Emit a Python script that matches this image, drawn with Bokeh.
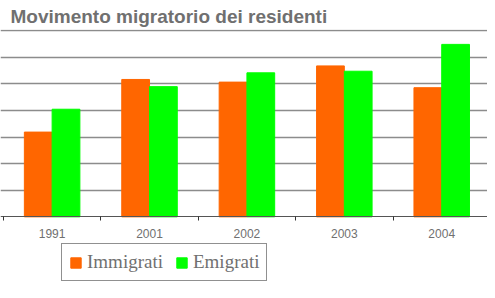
from bokeh.plotting import figure
from bokeh.models import (ColumnDataSource, Range1d, FixedTicker, Legend, LegendItem)
from bokeh.transform import dodge
from bokeh.embed import file_html
from bokeh.resources import INLINE

# Data
years = ["1991", "2001", "2002", "2003", "2004"]
immigrati = [319, 517, 507, 568, 486]
emigrati = [405, 490, 542, 548, 649]

ORANGE = "#FF6600"
GREEN = "#00FF00"
GRAY = "#707070"

xs = [i + 0.5 for i in range(len(years))]
src = ColumnDataSource(dict(x=xs, imm=immigrati, emi=emigrati))

p = figure(width=487, height=282, output_backend="svg", toolbar_location=None,
           x_range=Range1d(-0.03, 4.97), y_range=Range1d(-247, 705),
           title="Movimento migratorio dei residenti",
           min_border_left=0, min_border_right=0, min_border_top=0,
           min_border_bottom=0)

p.title.text_font = "Liberation Sans"
p.title.text_font_size = "19px"
p.title.text_font_style = "bold"
p.title.text_color = GRAY
p.title.offset = 10
p.title.standoff = 6

bw = 0.285
r1 = p.vbar(x=dodge("x", -bw / 2, range=p.x_range), top="imm", width=bw,
            bottom=0, source=src, fill_color=ORANGE, line_color=ORANGE)
r2 = p.vbar(x=dodge("x", bw / 2, range=p.x_range), top="emi", width=bw,
            bottom=0, source=src, fill_color=GREEN, line_color=GREEN)

p.yaxis.visible = False
p.xgrid.grid_line_color = None
p.ygrid.grid_line_color = "#8c8c8c"
p.ygrid.grid_line_width = 1.5
p.ygrid.ticker = FixedTicker(ticks=[100 * k for k in range(1, 8)])
p.outline_line_color = None

ax = p.xaxis[0]
ax.fixed_location = 0
ax.ticker = FixedTicker(ticks=xs, minor_ticks=list(range(len(years))))
ax.major_label_overrides = {x: y for x, y in zip(xs, years)}
ax.major_tick_line_color = None
ax.major_tick_out = 0
ax.major_tick_in = 0
ax.minor_tick_out = 4
ax.minor_tick_in = 0
ax.minor_tick_line_color = "#333333"
ax.axis_line_color = "#555555"
ax.major_label_standoff = 8
ax.major_label_text_font = "Liberation Sans"
ax.major_label_text_font_size = "12px"
ax.major_label_text_color = GRAY

legend = Legend(items=[LegendItem(label="Immigrati", renderers=[r1]),
                       LegendItem(label="Emigrati", renderers=[r2])],
                orientation="horizontal", location=(61, 1))
legend.label_text_font = "Liberation Serif"
legend.label_text_font_size = "19px"
legend.label_text_color = GRAY
legend.label_height = 18
legend.glyph_width = 13
legend.glyph_height = 13
legend.label_standoff = 5
legend.spacing = 12
legend.padding = 7
legend.margin = 0
legend.border_line_color = "#222222"
legend.border_line_width = 1.5
legend.background_fill_color = "white"
p.add_layout(legend, "center")

open("out.html", "w").write(file_html(p, INLINE))
